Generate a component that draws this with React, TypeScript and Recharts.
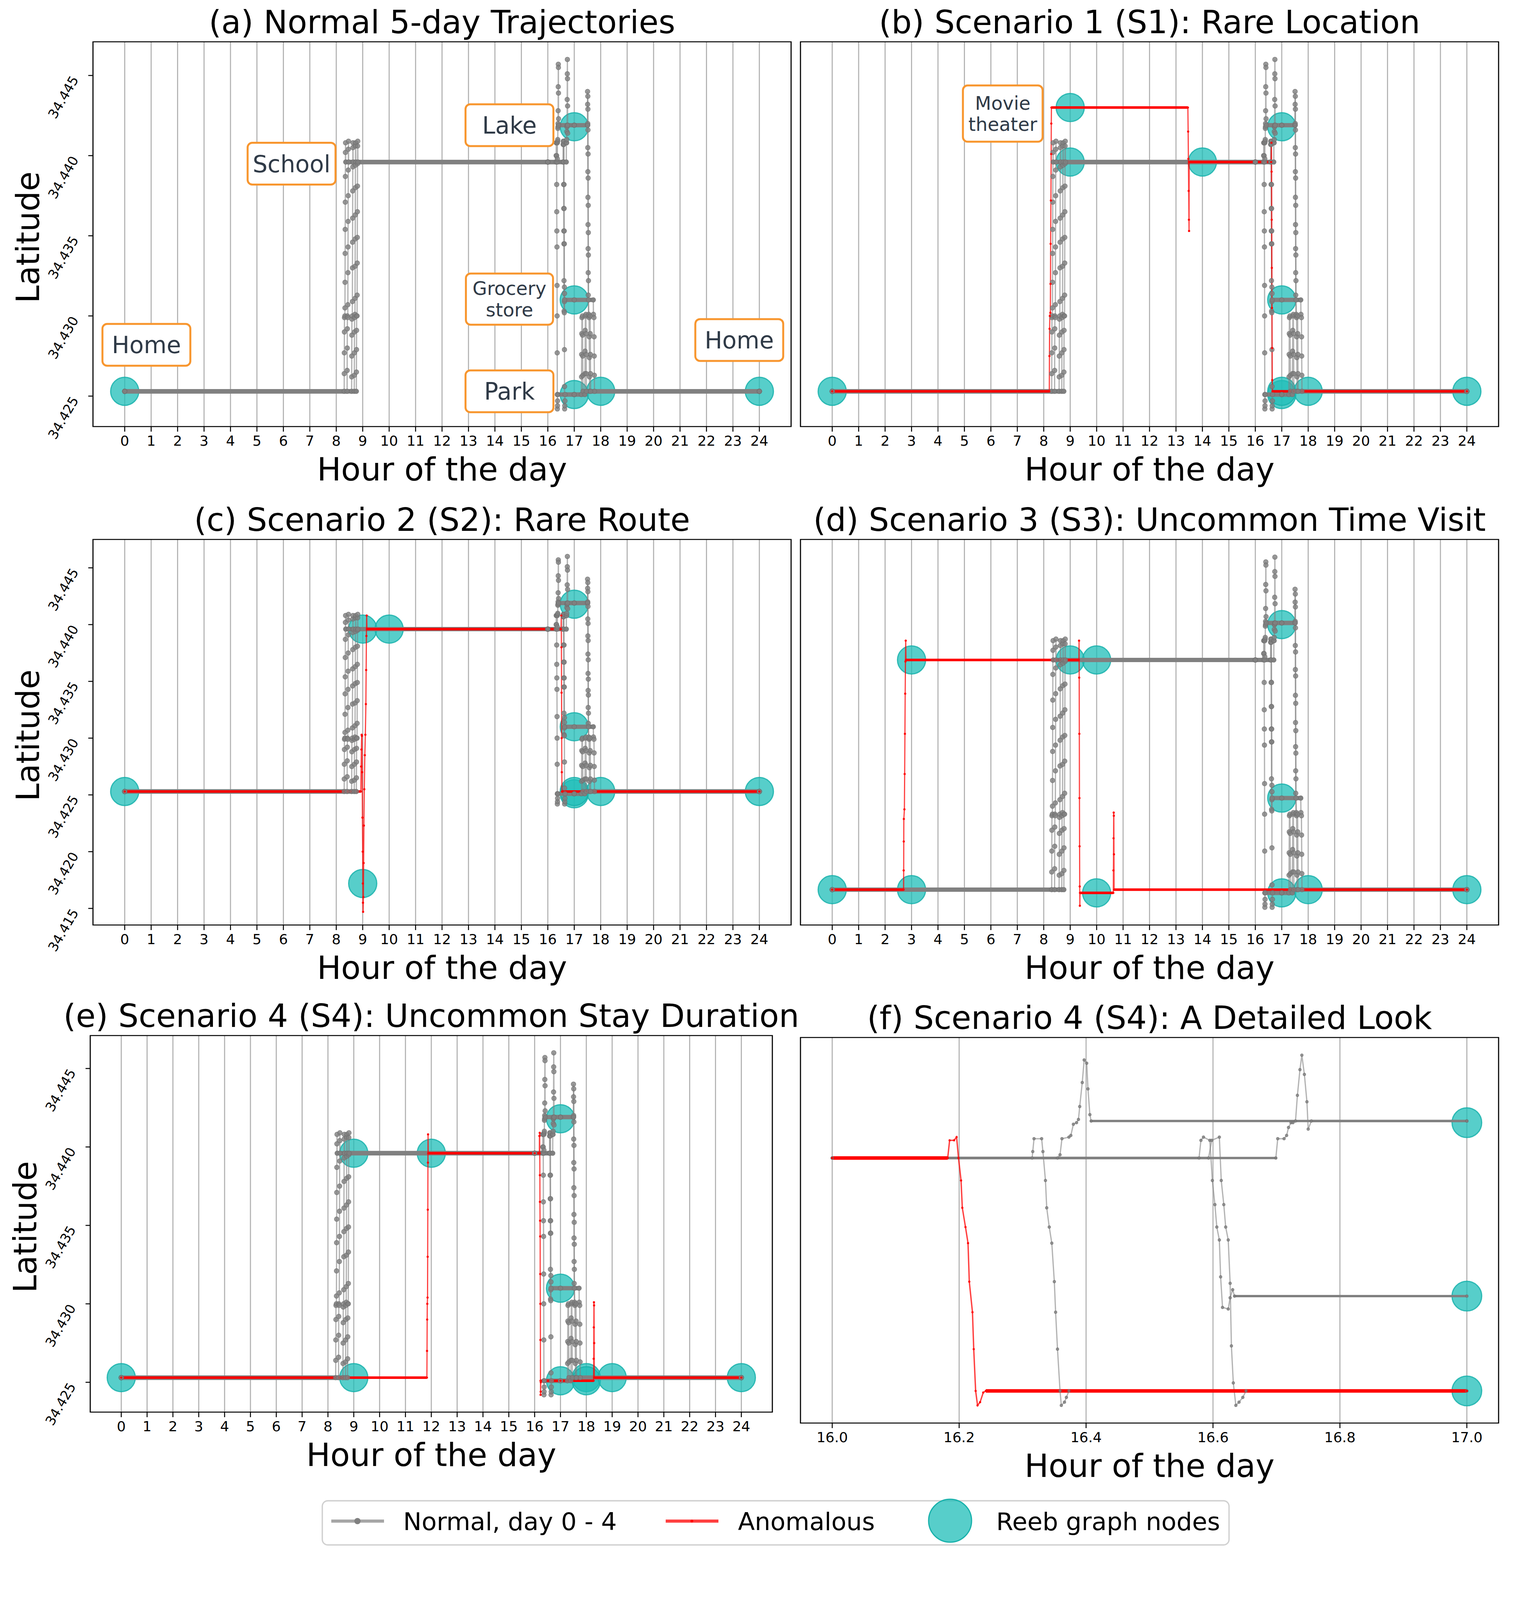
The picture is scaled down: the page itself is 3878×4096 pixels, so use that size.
import React from "react";
import {
  ComposedChart,
  Line,
  Scatter,
  XAxis,
  YAxis,
  CartesianGrid,
  ReferenceArea,
} from "recharts";

type Pt = [number, number];

// ---------- axis ticks ----------
const hourTicks = [0, 1, 2, 3, 4, 5, 6, 7, 8, 9, 10, 11, 12, 13, 14, 15, 16, 17, 18, 19, 20, 21, 22, 23, 24];
const detailTicks = [16.0, 16.2, 16.4, 16.6, 16.8, 17.0];
const latTicks = [34.425, 34.43, 34.435, 34.44, 34.445];
const latTicksWide = [34.415, 34.42, 34.425, 34.43, 34.435, 34.44, 34.445];

const dayDomain: [number, number] = [-1.2, 25.2];
const detailDomain: [number, number] = [15.95, 17.05];
const detailWindow: [number, number] = [16.0, 17.0];
const latDomain: [number, number] = [34.4231, 34.4471];
const latDomainWide: [number, number] = [34.41354, 34.4475];

// ---------- normal days (hour, latitude) ----------
const normalDay0: Pt[] = [
  [0, 34.4253], [8.30, 34.4253], [8.302, 34.4264], [8.305, 34.4277], [8.308, 34.429], [8.311, 34.4299],
  [8.326, 34.43], [8.329, 34.4305], [8.332, 34.4321], [8.335, 34.4339], [8.338, 34.4354], [8.341, 34.4371],
  [8.344, 34.4387], [8.347, 34.4402], [8.352, 34.4408], [8.358, 34.4396], [16.0, 34.4396],
  [16.315, 34.4396], [16.316, 34.44], [16.318, 34.4408], [16.33, 34.4408], [16.332, 34.44], [16.336, 34.4382],
  [16.338, 34.4365], [16.342, 34.4353], [16.346, 34.4343], [16.35, 34.4319], [16.352, 34.43], [16.355, 34.4277],
  [16.359, 34.4251], [16.361, 34.4242], [16.366, 34.4244], [16.369, 34.4247], [16.373, 34.4251], [17.0, 34.4251],
  [17.27, 34.4251], [17.275, 34.4262], [17.28, 34.4276], [17.285, 34.4289], [17.29, 34.4299], [17.31, 34.43],
  [17.315, 34.4288], [17.32, 34.4275], [17.325, 34.4263], [17.33, 34.4253], [24, 34.4253],
];
const normalDay1: Pt[] = [
  [0, 34.4253], [8.41, 34.4253], [8.412, 34.4266], [8.415, 34.428], [8.418, 34.4292], [8.421, 34.43],
  [8.436, 34.4299], [8.439, 34.4307], [8.442, 34.4327], [8.445, 34.4343], [8.448, 34.4359], [8.451, 34.4375],
  [8.454, 34.4391], [8.457, 34.4404], [8.462, 34.4409], [8.468, 34.4396], [16.0, 34.4396],
  [16.355, 34.4396], [16.359, 34.4398], [16.362, 34.4408], [16.373, 34.4409], [16.376, 34.441], [16.38, 34.4417],
  [16.385, 34.4418], [16.388, 34.442], [16.39, 34.4428], [16.394, 34.4443], [16.397, 34.4457], [16.401, 34.4455],
  [16.403, 34.4439], [16.406, 34.4423], [16.408, 34.4419], [17.0, 34.4419],
  [17.5, 34.4419], [17.503, 34.444], [17.506, 34.4432], [17.509, 34.442], [17.512, 34.4405], [17.515, 34.439],
  [17.518, 34.4374], [17.521, 34.4357], [17.524, 34.4342], [17.527, 34.4327], [17.53, 34.4313], [17.54, 34.43],
  [17.56, 34.4299], [17.565, 34.4287], [17.57, 34.4274], [17.575, 34.4262], [17.58, 34.4253], [24, 34.4253],
];
const normalDay2: Pt[] = [
  [0, 34.4253], [8.58, 34.4253], [8.583, 34.4262], [8.586, 34.4275], [8.589, 34.4288], [8.592, 34.4298],
  [8.607, 34.43], [8.61, 34.4309], [8.613, 34.433], [8.616, 34.4346], [8.619, 34.4361], [8.622, 34.4378],
  [8.625, 34.4393], [8.628, 34.4405], [8.633, 34.4408], [8.64, 34.4396], [16.0, 34.4396],
  [16.578, 34.4396], [16.581, 34.4407], [16.585, 34.4409], [16.595, 34.4407], [16.599, 34.4382], [16.603, 34.4367],
  [16.606, 34.4353], [16.61, 34.4345], [16.612, 34.4322], [16.615, 34.4303], [16.624, 34.4302], [16.627, 34.4309],
  [16.631, 34.4314], [16.634, 34.431], [17.0, 34.431],
  [17.72, 34.431], [17.725, 34.4301], [17.745, 34.4299], [17.75, 34.4287], [17.755, 34.4275], [17.76, 34.4263],
  [17.765, 34.4253], [24, 34.4253],
];
const normalDay3: Pt[] = [
  [0, 34.4253], [8.68, 34.4253], [8.683, 34.4263], [8.686, 34.4277], [8.689, 34.429], [8.692, 34.4299],
  [8.707, 34.4301], [8.71, 34.4311], [8.713, 34.4331], [8.716, 34.4348], [8.719, 34.4363], [8.722, 34.438],
  [8.725, 34.4394], [8.728, 34.4406], [8.733, 34.4408], [8.74, 34.4396], [16.0, 34.4396],
  [16.593, 34.4396], [16.598, 34.4407], [16.61, 34.4409], [16.613, 34.4382], [16.617, 34.4367], [16.62, 34.4353],
  [16.624, 34.4345], [16.627, 34.4318], [16.629, 34.4279], [16.632, 34.4256], [16.636, 34.4242], [16.641, 34.4244],
  [16.647, 34.4247], [16.652, 34.4251], [17.0, 34.4251],
  [17.4, 34.4251], [17.405, 34.4264], [17.41, 34.4278], [17.415, 34.4291], [17.42, 34.43], [17.44, 34.4301],
  [17.445, 34.4289], [17.45, 34.4276], [17.455, 34.4264], [17.46, 34.4253], [24, 34.4253],
];
const normalDay4: Pt[] = [
  [0, 34.4253], [8.76, 34.4253], [8.763, 34.4265], [8.766, 34.4279], [8.769, 34.4291], [8.772, 34.43],
  [8.787, 34.43], [8.79, 34.4313], [8.793, 34.4333], [8.796, 34.4349], [8.799, 34.4365], [8.802, 34.4381],
  [8.805, 34.4395], [8.808, 34.4406], [8.813, 34.4409], [8.82, 34.4396], [16.0, 34.4396],
  [16.699, 34.4396], [16.702, 34.4408], [16.712, 34.4408], [16.716, 34.441], [16.719, 34.4415], [16.723, 34.4418],
  [16.726, 34.4418], [16.73, 34.4419], [16.733, 34.4435], [16.737, 34.4451], [16.74, 34.446], [16.744, 34.4448],
  [16.748, 34.4431], [16.75, 34.4414], [16.755, 34.4419], [17.0, 34.4419],
  [17.51, 34.4419], [17.513, 34.4437], [17.516, 34.4429], [17.519, 34.4416], [17.522, 34.4401], [17.525, 34.4386],
  [17.528, 34.4369], [17.531, 34.4352], [17.534, 34.4338], [17.537, 34.4322], [17.54, 34.431], [17.55, 34.4301],
  [17.6, 34.43], [17.605, 34.4289], [17.61, 34.4276], [17.615, 34.4264], [17.62, 34.4253], [24, 34.4253],
];
const normalDays: Pt[][] = [normalDay0, normalDay1, normalDay2, normalDay3, normalDay4];

// ---------- anomalous days ----------
const anomalyS1: Pt[] = [
  [0, 34.4253], [8.21, 34.4253], [8.215, 34.4275], [8.22, 34.4292], [8.23, 34.43], [8.25, 34.4302],
  [8.255, 34.432], [8.26, 34.4345], [8.27, 34.4372], [8.28, 34.4401], [8.285, 34.442], [8.29, 34.443],
  [13.45, 34.443], [13.46, 34.4415], [13.47, 34.4398], [13.48, 34.4378], [13.49, 34.436], [13.495, 34.4353],
  [13.5, 34.4396], [16.6, 34.4396], [16.61, 34.4408], [16.615, 34.439], [16.62, 34.436], [16.625, 34.433],
  [16.63, 34.4305], [16.635, 34.428], [16.64, 34.426], [16.65, 34.4253], [24, 34.4253],
];
const anomalyS2: Pt[] = [
  [0, 34.4253], [8.93, 34.4253], [8.94, 34.4275], [8.95, 34.429], [8.96, 34.4303], [8.97, 34.4302],
  [8.98, 34.427], [8.99, 34.423], [9.0, 34.42], [9.005, 34.4172], [9.01, 34.4155], [9.015, 34.4147],
  [9.025, 34.416], [9.035, 34.419], [9.045, 34.4223], [9.06, 34.4255], [9.08, 34.4285], [9.1, 34.4303],
  [9.12, 34.433], [9.13, 34.436], [9.14, 34.439], [9.15, 34.4408], [9.16, 34.4396],
  [16.5, 34.4396], [16.51, 34.4408], [16.515, 34.438], [16.52, 34.434], [16.525, 34.43], [16.53, 34.427],
  [16.535, 34.4253], [24, 34.4253],
];
const anomalyS3: Pt[] = [
  [0, 34.4253], [2.7, 34.4253], [2.703, 34.4265], [2.706, 34.4283], [2.709, 34.4297], [2.73, 34.4303],
  [2.74, 34.4325], [2.75, 34.435], [2.76, 34.4375], [2.77, 34.4395], [2.78, 34.4408], [2.79, 34.4396],
  [9.33, 34.4396], [9.335, 34.4408], [9.34, 34.4385], [9.345, 34.435], [9.35, 34.431], [9.355, 34.428],
  [9.36, 34.4255], [9.365, 34.4243], [9.37, 34.4251], [10.63, 34.4251], [10.635, 34.4265], [10.64, 34.4285],
  [10.645, 34.4301], [10.65, 34.4299], [10.655, 34.4275], [10.66, 34.4253], [24, 34.4253],
];
const anomalyS4: Pt[] = [
  [0, 34.4253], [11.83, 34.4253], [11.835, 34.427], [11.84, 34.429], [11.845, 34.43], [11.855, 34.4304],
  [11.86, 34.433], [11.865, 34.436], [11.87, 34.439], [11.875, 34.4408], [11.88, 34.4396], [16.0, 34.4396],
  [16.182, 34.4396], [16.185, 34.4407], [16.192, 34.4407], [16.196, 34.4409], [16.199, 34.4396], [16.203, 34.4382],
  [16.205, 34.4365], [16.21, 34.4353], [16.214, 34.4343], [16.216, 34.4319], [16.221, 34.43], [16.223, 34.4277],
  [16.226, 34.4251], [16.229, 34.4242], [16.233, 34.4244], [16.238, 34.425], [16.242, 34.4251], [17.0, 34.4251],
  [18.28, 34.4251], [18.285, 34.4265], [18.29, 34.4285], [18.295, 34.4301], [18.3, 34.4299], [18.305, 34.4275],
  [18.31, 34.4253], [24, 34.4253],
];

// ---------- Reeb graph nodes ----------
const nodesA: Pt[] = [[0, 34.4253], [17, 34.4418], [17, 34.431], [17, 34.4251], [18, 34.4253], [24, 34.4253]];
const nodesB: Pt[] = [
  [0, 34.4253], [9, 34.443], [9, 34.4396], [14, 34.4396], [17, 34.4418], [17, 34.431], [17, 34.4251],
  [17, 34.4253], [18, 34.4253], [24, 34.4253],
];
const nodesC: Pt[] = [
  [0, 34.4253], [9, 34.4396], [10, 34.4396], [9, 34.4172], [17, 34.4418], [17, 34.431], [17, 34.4251],
  [17, 34.4253], [18, 34.4253], [24, 34.4253],
];
const nodesD: Pt[] = [
  [0, 34.4253], [3, 34.4253], [3, 34.4396], [9, 34.4396], [10, 34.4396], [10, 34.4251], [17, 34.4418],
  [17, 34.431], [17, 34.4251], [18, 34.4253], [24, 34.4253],
];
const nodesE: Pt[] = [
  [0, 34.4253], [9, 34.4253], [9, 34.4396], [12, 34.4396], [17, 34.4418], [17, 34.431], [17, 34.4251],
  [18, 34.4253], [18, 34.4251], [19, 34.4253], [24, 34.4253],
];
const nodesF: Pt[] = [[17, 34.4418], [17, 34.431], [17, 34.4251]];

// ---------- place annotations ----------
const placesA = [
  { x: 0.82, y: 34.4282, kind: "one", lines: ["Home"] },
  { x: 6.31, y: 34.4395, kind: "one", lines: ["School"] },
  { x: 14.55, y: 34.4419, kind: "one", lines: ["Lake"] },
  { x: 14.55, y: 34.43105, kind: "two", lines: ["Grocery", "store"] },
  { x: 14.55, y: 34.4253, kind: "one", lines: ["Park"] },
  { x: 23.24, y: 34.4285, kind: "one", lines: ["Home"] },
];
const placesB = [{ x: 6.45, y: 34.44262, kind: "movie", lines: ["Movie", "theater"] }];

// ---------- styles ----------
const FONT = "DejaVu Sans, Verdana, sans-serif";
const GRAY = "#808080";
const RED = "#ff0000";
const TEAL = "#1fbdb8";
const ORANGE = "#f8962e";
const boxStyle: Record<string, { w: number; h: number; fs: number; lh: number }> = {
  one: { w: 225, h: 107, fs: 60, lh: 0 },
  two: { w: 223, h: 131, fs: 48, lh: 55 },
  movie: { w: 204, h: 144, fs: 48, lh: 54 },
};

const rows = (pts: Pt[]) => pts.map(([x, y]) => ({ x, y }));
const within = (pts: Pt[], win?: [number, number]) => (win ? pts.filter(([x]) => x >= win[0] && x <= win[1]) : pts);

// horizontal runs (long stays) get drawn thick, as the dense markers do in the source
function stays(pts: Pt[]): Pt[][] {
  const out: Pt[][] = [];
  for (let i = 1; i < pts.length; i++) {
    if (pts[i][1] === pts[i - 1][1] && pts[i][0] - pts[i - 1][0] > 0.15) out.push([pts[i - 1], pts[i]]);
  }
  return out;
}

const XTick = (p: any) => {
  const v = p.payload.value;
  return (
    <text x={p.x} y={p.y} dy={30} textAnchor="middle" fontSize={36} fontFamily={FONT} fill="#000">
      {p.detail ? v.toFixed(1) : String(v)}
    </text>
  );
};

const YTick = (p: any) => {
  const ax = p.x - 20;
  const ay = p.y + 10;
  return (
    <text x={ax} y={ay} transform={`rotate(-60 ${ax} ${ay})`} textAnchor="end" fontSize={34} fontFamily={FONT} fill="#000">
      {p.payload.value.toFixed(3)}
    </text>
  );
};

const makeNode = (r: number) => (p: any) =>
  <circle cx={p.cx} cy={p.cy} r={r} fill={TEAL} fillOpacity={0.75} stroke="#17b1ab" strokeOpacity={0.85} strokeWidth={3} />;

const PlaceShape = (p: any) => {
  const { cx, cy, payload } = p;
  const s = boxStyle[payload.kind];
  const n = payload.lines.length;
  return (
    <g>
      <rect x={cx - s.w / 2} y={cy - s.h / 2} width={s.w} height={s.h} rx={12} fill="#fff" stroke={ORANGE} strokeWidth={5} />
      {payload.lines.map((t: string, i: number) => (
        <text key={i} x={cx} y={cy + (i - (n - 1) / 2) * s.lh + s.fs * 0.36} textAnchor="middle" fontSize={s.fs} fontFamily={FONT} fill="#2f3a47">
          {t}
        </text>
      ))}
    </g>
  );
};

interface Box { l: number; t: number; w: number; h: number }

interface PanelProps {
  box: Box;
  xDomain: [number, number];
  xTicks: number[];
  yDomain: [number, number];
  yTicks: number[];
  showY: boolean;
  nodes: Pt[];
  anomaly?: Pt[];
  places?: { x: number; y: number; kind: string; lines: string[] }[];
  detail?: boolean;
  win?: [number, number];
}

function Panel({ box, xDomain, xTicks, yDomain, yTicks, showY, nodes, anomaly, places, detail, win }: PanelProps) {
  const ML = 160, MT = 20, MR = 30, MB = 100;
  const dotR = detail ? 3.5 : 6;
  const stayW = detail ? 6 : 11;
  const days = normalDays.map((d) => within(d, win));
  const red = anomaly ? within(anomaly, win) : undefined;
  return (
    <div style={{ position: "absolute", left: box.l - ML, top: box.t - MT }}>
      <ComposedChart width={box.w + ML + MR} height={box.h + MT + MB} margin={{ top: MT, right: MR, bottom: 10, left: 20 }}>
        <CartesianGrid horizontal={false} stroke="#b0b0b0" strokeWidth={2.7} />
        <XAxis
          type="number"
          dataKey="x"
          domain={xDomain}
          ticks={xTicks}
          interval={0}
          allowDataOverflow
          height={90}
          axisLine={false}
          tickSize={13}
          tickMargin={6}
          tickLine={{ stroke: "#000", strokeWidth: 2.5 }}
          tick={<XTick detail={detail} />}
        />
        <YAxis
          type="number"
          dataKey="y"
          domain={yDomain}
          ticks={yTicks}
          interval={0}
          allowDataOverflow
          width={140}
          axisLine={false}
          tickSize={showY ? 12 : 0}
          tickMargin={4}
          tickLine={showY ? { stroke: "#000", strokeWidth: 2.5 } : false}
          tick={showY ? <YTick /> : false}
        />
        <Scatter data={rows(nodes)} shape={makeNode(detail ? 38 : 36)} isAnimationActive={false} zIndex={50} />
        {days.map((d, i) => (
          <Line
            key={`n${i}`}
            data={rows(d)}
            dataKey="y"
            type="linear"
            stroke={GRAY}
            strokeOpacity={0.6}
            strokeWidth={3.2}
            dot={{ r: dotR, fill: GRAY, fillOpacity: 0.8, stroke: "#6e6e6e", strokeOpacity: 0.7, strokeWidth: 1.5 }}
            activeDot={false}
            isAnimationActive={false}
          />
        ))}
        {days.flatMap((d, i) =>
          stays(d).map((s, j) => (
            <Line key={`ns${i}-${j}`} data={rows(s)} dataKey="y" type="linear" stroke={GRAY} strokeWidth={stayW} strokeLinecap="round" dot={false} activeDot={false} isAnimationActive={false} />
          ))
        )}
        {red && (
          <Line
            data={rows(red)}
            dataKey="y"
            type="linear"
            stroke={RED}
            strokeOpacity={0.75}
            strokeWidth={detail ? 3.5 : 3}
            dot={{ r: 2.5, fill: RED, stroke: RED, strokeWidth: 1 }}
            activeDot={false}
            isAnimationActive={false}
          />
        )}
        {red &&
          stays(red).map((s, j) => (
            <Line key={`as${j}`} data={rows(s)} dataKey="y" type="linear" stroke={RED} strokeWidth={detail ? 9 : 6.5} dot={false} activeDot={false} isAnimationActive={false} />
          ))}
        {places && <Scatter data={places} shape={PlaceShape} isAnimationActive={false} zIndex={700} />}
        <ReferenceArea x1={xDomain[0]} x2={xDomain[1]} y1={yDomain[0]} y2={yDomain[1]} fill="none" fillOpacity={0} stroke="#000" strokeWidth={2.7} ifOverflow="visible" zIndex={800} />
      </ComposedChart>
    </div>
  );
}

const boxA: Box = { l: 238, t: 107, w: 1787, h: 985 };
const boxB: Box = { l: 2049, t: 107, w: 1787, h: 985 };
const boxC: Box = { l: 238, t: 1381, w: 1787, h: 987 };
const boxD: Box = { l: 2049, t: 1381, w: 1787, h: 987 };
const boxE: Box = { l: 231, t: 2651, w: 1746, h: 964 };
const boxF: Box = { l: 2049, t: 2656, w: 1787, h: 987 };

const titles = [
  { text: "(a) Normal 5-day Trajectories", box: boxA },
  { text: "(b) Scenario 1 (S1): Rare Location", box: boxB },
  { text: "(c) Scenario 2 (S2): Rare Route", box: boxC },
  { text: "(d) Scenario 3 (S3): Uncommon Time Visit", box: boxD },
  { text: "(e) Scenario 4 (S4): Uncommon Stay Duration", box: boxE },
  { text: "(f) Scenario 4 (S4): A Detailed Look", box: boxF },
];
const xLabelBoxes = [boxA, boxB, boxC, boxD, boxE, boxF];
const yLabelBoxes = [boxA, boxC, boxE];

export default function App() {
  return (
    <div style={{ position: "absolute", left: 0, top: 0, width: 3878, height: 4096, background: "#fff", overflow: "hidden" }}>
      <Panel box={boxA} xDomain={dayDomain} xTicks={hourTicks} yDomain={latDomain} yTicks={latTicks} showY nodes={nodesA} places={placesA} />
      <Panel box={boxB} xDomain={dayDomain} xTicks={hourTicks} yDomain={latDomain} yTicks={latTicks} showY={false} nodes={nodesB} anomaly={anomalyS1} places={placesB} />
      <Panel box={boxC} xDomain={dayDomain} xTicks={hourTicks} yDomain={latDomainWide} yTicks={latTicksWide} showY nodes={nodesC} anomaly={anomalyS2} />
      <Panel box={boxD} xDomain={dayDomain} xTicks={hourTicks} yDomain={latDomain} yTicks={latTicks} showY={false} nodes={nodesD} anomaly={anomalyS3} />
      <Panel box={boxE} xDomain={dayDomain} xTicks={hourTicks} yDomain={latDomain} yTicks={latTicks} showY nodes={nodesE} anomaly={anomalyS4} />
      <Panel box={boxF} xDomain={detailDomain} xTicks={detailTicks} yDomain={latDomain} yTicks={latTicks} showY={false} nodes={nodesF} anomaly={anomalyS4} detail win={detailWindow} />

      <svg width={3878} height={4096} style={{ position: "absolute", left: 0, top: 0, pointerEvents: "none" }} fontFamily={FONT}>
        {titles.map((t, i) => (
          <text key={i} x={t.box.l + t.box.w / 2} y={t.box.t - 22} textAnchor="middle" fontSize={82} fill="#000">
            {t.text}
          </text>
        ))}
        {xLabelBoxes.map((b, i) => (
          <text key={i} x={b.l + b.w / 2} y={b.t + b.h + 138} textAnchor="middle" fontSize={82} fill="#000">
            Hour of the day
          </text>
        ))}
        {yLabelBoxes.map((b, i) => (
          <text key={i} transform={`translate(${b.l - 138},${b.t + b.h / 2 + 8}) rotate(-90)`} textAnchor="middle" fontSize={82} fill="#000">
            Latitude
          </text>
        ))}

        {/* legend */}
        <rect x={825} y={3842} width={2321} height={113} rx={14} fill="#fff" stroke="#d0d0d0" strokeWidth={3.4} />
        <line x1={848} y1={3894} x2={983} y2={3894} stroke={GRAY} strokeOpacity={0.7} strokeWidth={8} />
        <circle cx={915} cy={3894} r={8} fill={GRAY} />
        <text x={1032} y={3917} fontSize={63} fill="#000">Normal, day 0 - 4</text>
        <line x1={1704} y1={3894} x2={1839} y2={3894} stroke={RED} strokeOpacity={0.75} strokeWidth={8} />
        <circle cx={1771} cy={3894} r={3.5} fill={RED} />
        <text x={1889} y={3917} fontSize={63} fill="#000">Anomalous</text>
        <circle cx={2432} cy={3893} r={55} fill={TEAL} fillOpacity={0.75} stroke="#17b1ab" strokeWidth={3} />
        <text x={2550} y={3917} fontSize={63} fill="#000">Reeb graph nodes</text>
      </svg>
    </div>
  );
}
